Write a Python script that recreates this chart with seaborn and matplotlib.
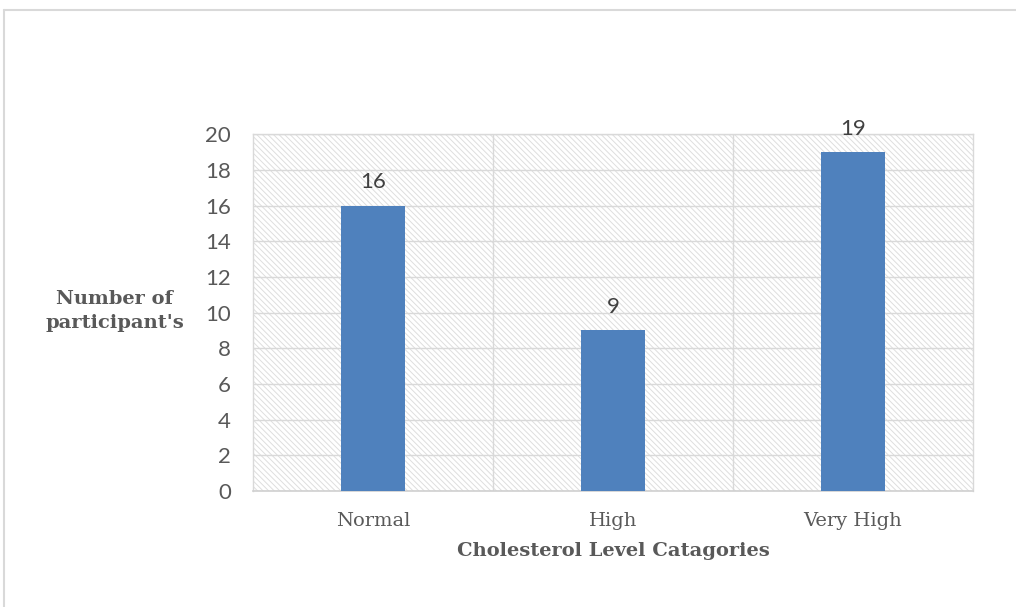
import matplotlib
matplotlib.use("Agg")
import matplotlib.pyplot as plt
from matplotlib.patches import Rectangle
from matplotlib.lines import Line2D
import seaborn as sns
import pandas as pd

categories = ["Normal", "High", "Very High"]
participants = [16, 9, 19]
y_ticks = [0, 2, 4, 6, 8, 10, 12, 14, 16, 18, 20]

df = pd.DataFrame({"level": categories, "count": participants})

sns.set_theme(style="white")
plt.rcParams["font.family"] = ["DejaVu Serif"]
plt.rcParams["hatch.linewidth"] = 0.7
plt.rcParams["hatch.color"] = "#dedede"

SANS = ["Lato", "DejaVu Sans"]
SERIF = ["DejaVu Serif"]

fig = plt.figure(figsize=(10.16, 6.07), dpi=100)
ax = fig.add_axes([0.249, 0.191, 0.7087, 0.588])

# hatched plot-area background
bg = Rectangle((0, 0), 1, 1, transform=ax.transAxes, facecolor="white",
               edgecolor="#dedede", hatch="\\" * 6, linewidth=0, zorder=0)
ax.add_patch(bg)

sns.barplot(data=df, x="level", y="count", color="#4f81bd", width=0.27,
            saturation=1, ax=ax, zorder=3)
for p in ax.patches:
    if p is not bg:
        p.set_linewidth(0)

ax.set_ylim(0, 20)
ax.set_xlim(-0.5, 2.5)
ax.set_yticks(y_ticks)
ax.set_yticklabels([str(v) for v in y_ticks], fontsize=16, color="#595959",
                   family=SANS)
ax.set_xticks(range(len(categories)))
ax.set_xticklabels(categories, fontsize=14, color="#595959", family=SERIF)
ax.tick_params(axis="y", length=0, pad=16)
ax.tick_params(axis="x", length=0, pad=15)

# gridlines
ax.set_xticks([0.5, 1.5], minor=True)
ax.tick_params(axis="x", which="minor", length=0)
ax.grid(axis="y", which="major", color="#d9d9d9", linewidth=1.0, zorder=1)
ax.grid(axis="x", which="minor", color="#d9d9d9", linewidth=1.0, zorder=1)
ax.grid(axis="x", which="major", visible=False)
ax.set_axisbelow(True)
for s in ["left", "right", "top"]:
    ax.spines[s].set_color("#d9d9d9")
    ax.spines[s].set_linewidth(1.0)
ax.spines["bottom"].set_color("#d0d0d0")
ax.spines["bottom"].set_linewidth(1.2)

# value labels
for i, v in enumerate(participants):
    ax.text(i, v + 0.75, str(v), ha="center", va="bottom", fontsize=16,
            color="#404040", family=SANS)

ax.set_xlabel("Cholesterol Level Catagories", fontsize=14, fontweight="bold",
              color="#595959", labelpad=9, family=SERIF)
ax.set_ylabel("")
fig.text(0.113, 0.488, "Number of\nparticipant's", ha="center", va="center",
         fontsize=14, fontweight="bold", color="#595959", linespacing=1.45,
         family=SERIF)

# outer chart frame
fig.add_artist(Line2D([0.004, 1.0], [0.983, 0.983], transform=fig.transFigure,
                      color="#d9d9d9", linewidth=1.5))
fig.add_artist(Line2D([0.004, 0.004], [0.0, 0.983], transform=fig.transFigure,
                      color="#d9d9d9", linewidth=1.5))

fig.savefig("out.png", dpi=100)
